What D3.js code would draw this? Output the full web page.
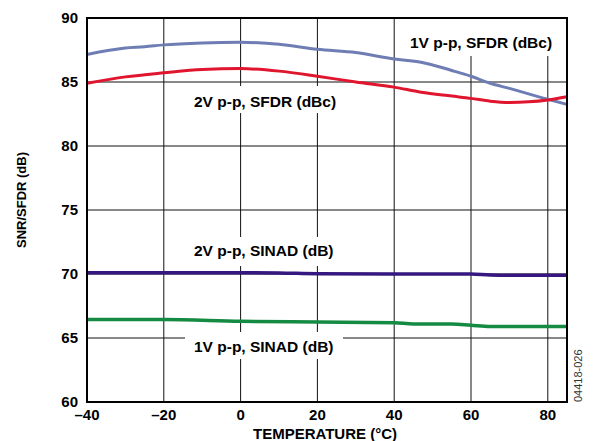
<!DOCTYPE html>
<html>
<head>
<meta charset="utf-8">
<script src="https://cdn.jsdelivr.net/npm/d3@7"></script>
<style>
  html, body { margin: 0; padding: 0; background: #fff; }
  svg { display: block; font-family: "Liberation Sans", Arial, Helvetica, sans-serif; }
</style>
</head>
<body>
<div id="chart"></div>
<script>
// Temperature axis (°C) and SNR/SFDR readings (dB)
const xTicks = [-40, -20, 0, 20, 40, 60, 80];
const yTicks = [60, 65, 70, 75, 80, 85, 90];

const sfdr1Temp = [-40, -30, -25, -20, -10, 0, 10, 20, 30, 40, 47, 55, 60, 65, 70, 80, 85];
const sfdr1Val  = [87.15, 87.65, 87.75, 87.9, 88.05, 88.1, 87.95, 87.55, 87.3, 86.8, 86.55, 85.9, 85.45, 84.9, 84.5, 83.65, 83.25];

const sfdr2Temp = [-40, -30, -20, -10, 0, 10, 20, 30, 40, 47, 55, 60, 65, 70, 75, 80, 85];
const sfdr2Val  = [84.9, 85.4, 85.72, 85.98, 86.05, 85.85, 85.45, 85.0, 84.6, 84.2, 83.9, 83.72, 83.5, 83.4, 83.45, 83.6, 83.85];

const sinad2Temp = [-40, -20, 0, 10, 20, 40, 60, 65, 70, 85];
const sinad2Val  = [70.1, 70.1, 70.1, 70.08, 70.02, 70.0, 70.0, 69.92, 69.9, 69.9];

const sinad1Temp = [-40, -20, 0, 20, 40, 45, 55, 60, 65, 85];
const sinad1Val  = [66.45, 66.45, 66.3, 66.25, 66.2, 66.1, 66.1, 66.0, 65.9, 65.9];

const series = [
  { name: '1V p-p, SFDR (dBc)', t: sfdr1Temp, v: sfdr1Val, color: '#6e7db3', width: 3 },
  { name: '2V p-p, SFDR (dBc)', t: sfdr2Temp, v: sfdr2Val, color: '#e0162f', width: 3 },
  { name: '2V p-p, SINAD (dB)', t: sinad2Temp, v: sinad2Val, color: '#36177f', width: 3.5 },
  { name: '1V p-p, SINAD (dB)', t: sinad1Temp, v: sinad1Val, color: '#158a43', width: 3.5 }
];

// label boxes: text position and white background (knocks out the grid)
const labels = [
  { text: '1V p-p, SFDR (dBc)', x: 410, y: 48, box: [405, 18, 153, 38] },
  { text: '2V p-p, SFDR (dBc)', x: 194, y: 107, box: [188, 86, 152, 27] },
  { text: '2V p-p, SINAD (dB)', x: 194, y: 256, box: [188, 237, 152, 29] },
  { text: '1V p-p, SINAD (dB)', x: 194, y: 352, box: [185, 332, 158, 27] }
];

const width = 595, height = 441;
const margin = { top: 18, right: 28, bottom: 39, left: 87 };

const svg = d3.select('#chart')
  .append('svg')
  .attr('width', width)
  .attr('height', height);

const x = d3.scaleLinear().domain([-40, 85]).range([margin.left, width - margin.right]);
const y = d3.scaleLinear().domain([60, 90]).range([height - margin.bottom, margin.top]);

// grid
svg.append('g')
  .selectAll('line.v')
  .data(xTicks)
  .join('line')
  .attr('x1', d => x(d)).attr('x2', d => x(d))
  .attr('y1', y(90)).attr('y2', y(60))
  .attr('stroke', '#111').attr('stroke-width', 1);

svg.append('g')
  .selectAll('line.h')
  .data(yTicks)
  .join('line')
  .attr('x1', x(-40)).attr('x2', x(85))
  .attr('y1', d => y(d)).attr('y2', d => y(d))
  .attr('stroke', '#111').attr('stroke-width', 1);

// white boxes behind labels
svg.append('g')
  .selectAll('rect')
  .data(labels)
  .join('rect')
  .attr('x', d => d.box[0]).attr('y', d => d.box[1])
  .attr('width', d => d.box[2]).attr('height', d => d.box[3])
  .attr('fill', '#fff');

// curves
const line = d3.line()
  .x(d => x(d[0]))
  .y(d => y(d[1]))
  .curve(d3.curveMonotoneX);

svg.append('g')
  .selectAll('path')
  .data(series)
  .join('path')
  .attr('d', s => line(d3.zip(s.t, s.v)))
  .attr('fill', 'none')
  .attr('stroke', s => s.color)
  .attr('stroke-width', s => s.width)
  .attr('stroke-linejoin', 'round');

// frame
svg.append('rect')
  .attr('x', x(-40)).attr('y', y(90))
  .attr('width', x(85) - x(-40)).attr('height', y(60) - y(90))
  .attr('fill', 'none').attr('stroke', '#000').attr('stroke-width', 2);

// curve labels
svg.append('g')
  .selectAll('text')
  .data(labels)
  .join('text')
  .attr('x', d => d.x).attr('y', d => d.y)
  .attr('font-size', 15.5).attr('font-weight', 'bold')
  .attr('fill', '#000')
  .text(d => d.text);

// tick labels
const fmt = d => d < 0 ? '\u2013' + Math.abs(d) : String(d);

svg.append('g')
  .selectAll('text')
  .data(xTicks)
  .join('text')
  .attr('x', d => x(d)).attr('y', 420)
  .attr('text-anchor', 'middle')
  .attr('font-size', 15).attr('font-weight', 'bold')
  .text(fmt);

svg.append('g')
  .selectAll('text')
  .data(yTicks)
  .join('text')
  .attr('x', 78).attr('y', d => y(d))
  .attr('dy', '0.36em')
  .attr('text-anchor', 'end')
  .attr('font-size', 15).attr('font-weight', 'bold')
  .text(fmt);

// axis titles
svg.append('text')
  .attr('x', (x(-40) + x(85)) / 2 - 2).attr('y', 439)
  .attr('text-anchor', 'middle')
  .attr('font-size', 15).attr('font-weight', 'bold')
  .text('TEMPERATURE (\u00B0C)');

svg.append('text')
  .attr('transform', 'translate(26,200) rotate(-90)')
  .attr('text-anchor', 'middle')
  .attr('font-size', 13).attr('font-weight', 'bold')
  .text('SNR/SFDR (dB)');

svg.append('text')
  .attr('transform', 'translate(582,402) rotate(-90)')
  .attr('font-size', 11)
  .attr('fill', '#333')
  .text('04418-026');
</script>
</body>
</html>
